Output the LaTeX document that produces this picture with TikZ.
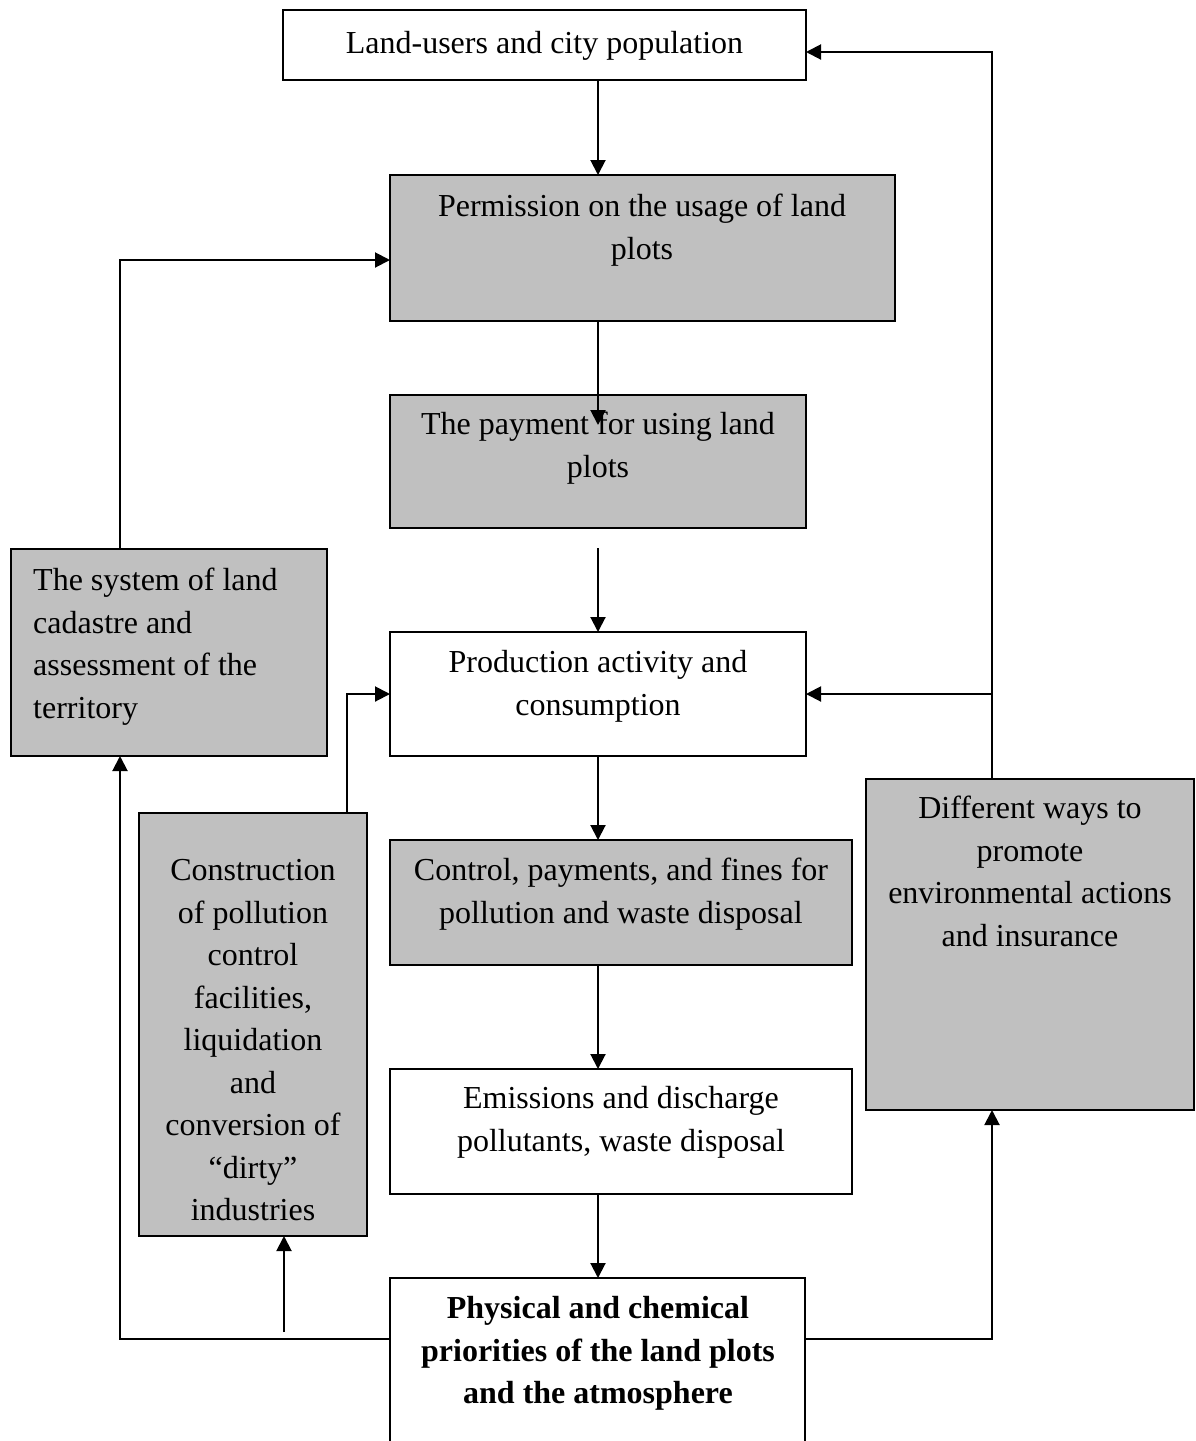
\documentclass[tikz,border=0pt]{standalone}
\usepackage{fontspec}
\setmainfont{Liberation Serif}
\usetikzlibrary{arrows.meta}
\definecolor{boxgray}{HTML}{C0C0C0}
\tikzset{
  box/.style={draw=black, line width=2pt, inner sep=0pt, outer sep=0pt, anchor=north west},
  grayfill/.style={fill=boxgray},
  txt/.style={inner sep=0pt, anchor=north, align=center, font=\fontsize{32}{42.5}\selectfont},
  txtl/.style={inner sep=0pt, anchor=north west, align=left, font=\fontsize{32}{42.5}\selectfont},
  arr/.style={line width=2pt, -{Triangle[length=15pt,width=15pt]}},
  ln/.style={line width=2pt}
}
\begin{document}
\begin{tikzpicture}[x=1pt,y=-1pt]
\useasboundingbox (0,0) rectangle (1195,1441);
\clip (0,0) rectangle (1195,1441);
% boxes
\node[box, minimum width=523pt, minimum height=70pt] (top) at (283,10) {};
\node[box, grayfill, minimum width=505pt, minimum height=146pt] (perm) at (390,175) {};
\node[box, grayfill, minimum width=416pt, minimum height=133pt] (pay) at (390,395) {};
\node[box, minimum width=416pt, minimum height=124pt] (prod) at (390,632) {};
\node[box, grayfill, minimum width=316pt, minimum height=207pt] (sys) at (11,549) {};
\node[box, grayfill, minimum width=228pt, minimum height=423pt] (cons) at (139,813) {};
\node[box, grayfill, minimum width=462pt, minimum height=125pt] (ctrl) at (390,840) {};
\node[box, minimum width=462pt, minimum height=125pt] (emis) at (390,1069) {};
\node[box, grayfill, minimum width=328pt, minimum height=331pt] (diff) at (866,779) {};
\node[box, minimum width=415pt, minimum height=220pt] (bot) at (390,1278) {};
% texts
\node[txt] (ttop) at (544.5,24) {\strut Land-users and city population};
\node[txt] (tperm) at (642,187) {\strut Permission on the usage of land\\plots};
\node[txt] (tpay) at (598,405) {\strut The payment for using land\\plots};
\node[txt] (tprod) at (598,643) {\strut Production activity and\\consumption};
\node[txtl] (tsys) at (33,561) {\strut The system of land\\cadastre and\\assessment of the\\territory};
\node[txt] (tcons) at (253,851) {\strut Construction\\of pollution\\control\\facilities,\\liquidation\\and\\conversion of\\“dirty”\\industries};
\node[txt] (tctrl) at (621,851) {\strut Control, payments, and fines for\\pollution and waste disposal};
\node[txt] (temis) at (621,1079) {\strut Emissions and discharge\\pollutants, waste disposal};
\node[txt] (tdiff) at (1030,789) {\strut Different ways to\\promote\\environmental actions\\and insurance};
\node[txt, font=\fontsize{32}{42.5}\selectfont\bfseries] (tbot) at (598,1289) {\strut Physical and chemical\\priorities of the land plots\\and the atmosphere};
% connector points
\coordinate (payin) at (598,425);
\coordinate (payout) at (598,548);
\coordinate (sysup) at (120,549);
\coordinate (sysdown) at (120,756);
\coordinate (consup) at (347,813);
\coordinate (consdown) at (284,1236);
\coordinate (consfoot) at (284,1332);
\coordinate (botleft) at (390,1339);
\coordinate (botright) at (805,1339);
\coordinate (diffup) at (992,779);
\coordinate (diffdown) at (992,1110);
\coordinate (topright) at (806,52);
\coordinate (prodright) at (806,694);
\coordinate (prodleft) at (390,694);
\coordinate (permleft) at (390,260);
% connectors
\draw[arr] (top.south -| pay.north) -- (perm.north -| pay.north);
\draw[arr] (perm.south -| pay.north) -- (payin);
\draw[arr] (payout) -- (prod.north);
\draw[arr] (prod.south) -- (prod.south |- ctrl.north);
\draw[arr] (prod.south |- ctrl.south) -- (prod.south |- emis.north);
\draw[arr] (prod.south |- emis.south) -- (prod.south |- bot.north);
\draw[arr] (sysup) -- (sysup |- permleft) -- (permleft);
\draw[arr] (consup) -- (consup |- prodleft) -- (prodleft);
\draw[arr] (diffup) -- (diffup |- topright) -- (topright);
\draw[arr] (diffup |- prodright) -- (prodright);
\draw[arr] (botleft) -- (sysdown |- botleft) -- (sysdown);
\draw[arr] (consfoot) -- (consdown);
\draw[arr] (botright) -- (diffdown |- botright) -- (diffdown);
\end{tikzpicture}
\end{document}
